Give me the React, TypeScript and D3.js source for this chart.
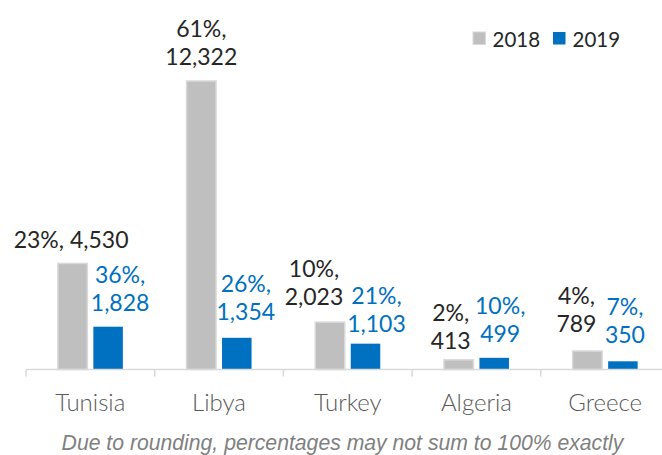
import React from "react";
import * as d3 from "d3";

const categories = ["Tunisia", "Libya", "Turkey", "Algeria", "Greece"];
const series = ["2018", "2019"];
const values2018 = [4530, 12322, 2023, 413, 789];
const values2019 = [1828, 1354, 1103, 499, 350];
const pct2018 = [23, 61, 10, 2, 4];
const pct2019 = [36, 26, 21, 10, 7];
const footnote = "Due to rounding, percentages may not sum to 100% exactly";

// label layout: [dx from bar centre, gap above bar top, single line?]
const labelLayout2018: [number, number, boolean][] = [
  [-1.5, 15, true],
  [0, 16, false],
  [-16, 17.5, false],
  [-8, 11, false],
  [-11, 19, false],
];
const labelLayout2019: [number, number, boolean][] = [
  [12, 16, false],
  [9, 18, false],
  [11, 11.5, false],
  [6, 16, false],
  [2, 18, false],
];

const W = 662;
const H = 455;
const COLORS = ["#bfbfbf", "#0070c0"];
const LABEL_COLORS = ["#262626", "#0070c0"];
const FONT = "Lato, 'Noto Sans', sans-serif";

export default function App() {
  const x = d3.scaleBand<string>().domain(categories).range([26, 669.5]);
  const y = d3.scaleLinear().domain([0, 14000]).range([369.5, 41.7]);
  const barW = 29.5;
  const gap = 6;
  const fmt = d3.format(",");
  const baseY = y(0);
  const lineH = 28;

  const allVals = [values2018, values2019];
  const allPct = [pct2018, pct2019];
  const layouts = [labelLayout2018, labelLayout2019];

  return (
    <svg
      width={W}
      height={H}
      style={{ position: "absolute", left: 0, top: 0, background: "#fff" }}
      fontFamily={FONT}
    >
      {/* bars */}
      {series.map((s, si) =>
        categories.map((c, ci) => {
          const cx = (x(c) as number) + x.bandwidth() / 2;
          const bx = si === 0 ? cx - gap / 2 - barW : cx + gap / 2;
          const v = allVals[si][ci];
          const top = y(v);
          return (
            <rect
              key={s + c}
              x={bx}
              y={top}
              width={barW}
              height={baseY - top}
              fill={COLORS[si]}
              stroke={si === 0 ? "#d9d9d9" : "none"}
              strokeWidth={si === 0 ? 1.5 : 0}
            />
          );
        })
      )}
      {/* axis */}
      <line x1={26} x2={W} y1={baseY} y2={baseY} stroke="#d9d9d9" strokeWidth={1.5} />
      {categories.map((c) => (
        <line
          key={"t" + c}
          x1={x(c) as number}
          x2={x(c) as number}
          y1={baseY}
          y2={baseY + 7}
          stroke="#d9d9d9"
          strokeWidth={1.5}
        />
      ))}
      {categories.map((c) => (
        <text
          key={"c" + c}
          x={(x(c) as number) + x.bandwidth() / 2}
          y={411}
          textAnchor="middle"
          fontSize={24}
          fontWeight={300}
          fill="#595959"
        >
          {c}
        </text>
      ))}
      {/* data labels */}
      {series.map((s, si) =>
        categories.map((c, ci) => {
          const cx = (x(c) as number) + x.bandwidth() / 2;
          const bcx = si === 0 ? cx - gap / 2 - barW / 2 : cx + gap / 2 + barW / 2;
          const v = allVals[si][ci];
          const [dx, gy, single] = layouts[si][ci];
          const lines = single
            ? [`${allPct[si][ci]}%, ${fmt(v)}`]
            : [`${allPct[si][ci]}%,`, fmt(v)];
          const lastBase = y(v) - gy;
          return (
            <text
              key={"l" + s + c}
              textAnchor="middle"
              fontSize={23}
              fill={LABEL_COLORS[si]}
            >
              {lines.map((ln, li) => (
                <tspan key={li} x={bcx + dx} y={lastBase - (lines.length - 1 - li) * lineH}>
                  {ln}
                </tspan>
              ))}
            </text>
          );
        })
      )}
      {/* legend */}
      {series.map((s, si) => {
        const lx = si === 0 ? 473 : 553;
        return (
          <g key={"lg" + s}>
            <rect
              x={lx}
              y={32}
              width={12.5}
              height={12.5}
              fill={COLORS[si]}
              stroke={si === 0 ? "#d9d9d9" : "none"}
              strokeWidth={1}
            />
            <text x={lx + 19.5} y={47} fontSize={20.5} fill="#262626">
              {s}
            </text>
          </g>
        );
      })}
      <text
        x={342.5}
        y={450}
        textAnchor="middle"
        fontFamily="'Liberation Sans', Arial, sans-serif"
        fontStyle="italic"
        fontSize={21.2}
        fill="#808080"
      >
        {footnote}
      </text>
    </svg>
  );
}
